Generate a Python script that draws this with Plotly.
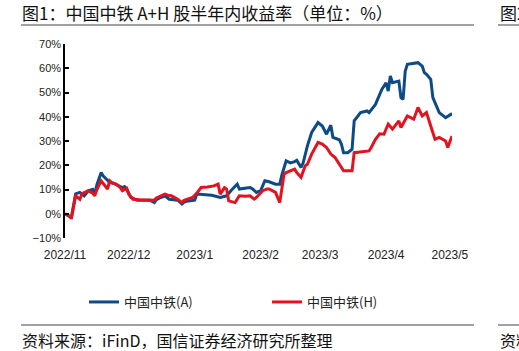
import plotly.graph_objects as go

# ---- data ----
dates_a = ["2022-11-01","2022-11-03","2022-11-04","2022-11-06","2022-11-08","2022-11-10","2022-11-12","2022-11-14",
           "2022-11-15","2022-11-16","2022-11-18","2022-11-19","2022-11-21","2022-11-22","2022-11-24","2022-11-26",
           "2022-11-28","2022-11-29","2022-11-30","2022-12-02","2022-12-05","2022-12-08","2022-12-11","2022-12-13",
           "2022-12-14","2022-12-16","2022-12-18","2022-12-20","2022-12-24","2022-12-26","2022-12-27","2022-12-29",
           "2023-01-01","2023-01-02","2023-01-06","2023-01-09","2023-01-13","2023-01-16","2023-01-18","2023-01-21",
           "2023-01-22","2023-01-25","2023-01-27","2023-01-28","2023-01-30","2023-02-01","2023-02-02","2023-02-03",
           "2023-02-05","2023-02-08","2023-02-10","2023-02-11","2023-02-13","2023-02-15","2023-02-17","2023-02-18",
           "2023-02-20","2023-02-21","2023-02-23","2023-02-25","2023-02-28","2023-03-02","2023-03-04","2023-03-06",
           "2023-03-07","2023-03-10","2023-03-11","2023-03-12","2023-03-14","2023-03-16","2023-03-17","2023-03-19",
           "2023-03-20","2023-03-23","2023-03-24","2023-03-27","2023-03-30","2023-04-01","2023-04-02","2023-04-03",
           "2023-04-04","2023-04-07","2023-04-08","2023-04-09","2023-04-10","2023-04-11","2023-04-16","2023-04-18",
           "2023-04-19","2023-04-20","2023-04-22","2023-04-23","2023-04-25","2023-04-26","2023-04-29","2023-05-02"]
values_a = [0, -0.8, -1.5, 8.2, 8.8, 7.4, 9.5, 10.1,
            8.1, 12, 17, 15.5, 13.6, 12.9, 12.5, 11.5,
            10.8, 11.2, 10.2, 6.7, 5.6, 5.6, 5.6, 4.6,
            5.8, 6.7, 7.4, 6.0, 5.6, 4.0, 4.8, 5.3,
            5.6, 8.1, 7.8, 7.6, 6.7, 7.4, 9.5, 12.2,
            10.2, 10.6, 10.8, 10.4, 8.8, 9.5, 11.5, 13.6,
            13.2, 12.2, 12.2, 16, 21.8, 21, 21.5, 22,
            19.1, 21, 28, 33.5, 37.6, 36.2, 32.8, 36.5,
            31.5, 30.5, 28.7, 25.2, 25.2, 26.6, 38.3, 40.3,
            41.7, 42.4, 41.7, 45.1, 51.3, 54, 50.6, 56.8,
            54, 54.7, 47.9, 47.2, 58.8, 61.6, 62.3, 60.9,
            58.2, 57.5, 55.4, 47.9, 43.8, 41.7, 39.6, 41.3]

dates_h = ["2022-11-01","2022-11-03","2022-11-04","2022-11-06","2022-11-08","2022-11-09","2022-11-12","2022-11-14",
           "2022-11-15","2022-11-16","2022-11-18","2022-11-21","2022-11-22","2022-11-23","2022-11-25","2022-11-27",
           "2022-11-28","2022-11-30","2022-12-01","2022-12-03","2022-12-06","2022-12-13","2022-12-14","2022-12-17",
           "2022-12-18","2022-12-20","2022-12-21","2022-12-24","2022-12-26","2022-12-27","2022-12-31","2023-01-02",
           "2023-01-04","2023-01-07","2023-01-10","2023-01-12","2023-01-13","2023-01-15","2023-01-16","2023-01-17",
           "2023-01-20","2023-01-22","2023-01-25","2023-01-27","2023-01-29","2023-01-30","2023-02-02","2023-02-04",
           "2023-02-05","2023-02-08","2023-02-10","2023-02-12","2023-02-13","2023-02-17","2023-02-18","2023-02-20",
           "2023-02-22","2023-02-23","2023-02-25","2023-02-28","2023-03-02","2023-03-04","2023-03-06","2023-03-08",
           "2023-03-09","2023-03-12","2023-03-16","2023-03-17","2023-03-24","2023-03-25","2023-03-27","2023-03-29",
           "2023-03-31","2023-04-02","2023-04-04","2023-04-07","2023-04-08","2023-04-11","2023-04-14","2023-04-16",
           "2023-04-18","2023-04-20","2023-04-22","2023-04-24","2023-04-26","2023-04-29","2023-04-30","2023-05-02"]
values_h = [0, -1, -1.9, 7.4, 6, 8.3, 9.5, 8.5,
            7.4, 10, 13.6, 10.2, 13.6, 12.8, 12.2, 10.8,
            9.5, 10.5, 8, 6, 5.8, 5.6, 6.5, 7.5,
            8.1, 7.5, 7.4, 6, 4.6, 5.5, 6.7, 8.5,
            10.8, 11, 11.5, 12.2, 8.1, 10.8, 10.2, 5.3,
            4.6, 7.4, 7.2, 7.4, 6, 6.7, 9.5, 10.2,
            10.2, 8.8, 4.6, 16.3, 17, 18.4, 17, 15,
            19.8, 20.4, 24.6, 29.4, 28.7, 27.3, 24.6, 23.2,
            21.8, 17.7, 17.7, 25.2, 25.9, 27.3, 30.7, 33,
            32.8, 37, 34.9, 38.3, 35.6, 40.3, 39, 43.8,
            40.3, 41.7, 36.2, 30.7, 31.5, 30, 27.3, 32.1]

name_a = "中国中铁(A)"
name_h = "中国中铁(H)"
tick_vals = ["2022-11-01","2022-12-01","2023-01-01","2023-02-01","2023-03-01","2023-04-01","2023-05-01"]
tick_text = ["2022/11","2022/12","2023/1","2023/2","2023/3","2023/4","2023/5"]
x_range = ["2022-11-01", "2023-05-02"]
y_range = [-10, 70]

title_text = "图1：中国中铁 A+H 股半年内收益率（单位：%）"
source_text = "资料来源：iFinD，国信证券经济研究所整理"

# ---- layout helpers (pixel -> paper) ----
W, H = 519, 351
L, R, T, B = 65, 67, 44, 113
PW, PH = W - L - R, H - T - B
def px(x): return (x - L) / PW
def py(y): return (H - B - y) / PH

CJK = "Noto Sans CJK SC"
BLUE = "#0E4A86"
RED = "#E2131F"

fig = go.Figure()
fig.add_trace(go.Scatter(x=dates_a, y=values_a, name=name_a, mode="lines",
                         line=dict(color=BLUE, width=3)))
fig.add_trace(go.Scatter(x=dates_h, y=values_h, name=name_h, mode="lines",
                         line=dict(color=RED, width=3)))

fig.update_layout(
    width=W, height=H,
    margin=dict(l=L, r=R, t=T, b=B, pad=0),
    paper_bgcolor="white", plot_bgcolor="white",
    showlegend=True,
    legend=dict(orientation="h", x=px(84), y=py(287), xanchor="left", yanchor="top",
                font=dict(family=CJK, size=13, color="#222"),
                entrywidth=138, entrywidthmode="pixels", bgcolor="rgba(0,0,0,0)"),
    xaxis=dict(type="date", range=x_range, tickvals=tick_vals, ticktext=tick_text,
               showline=False, ticks="", showgrid=False, zeroline=False,
               tickfont=dict(family="Arial", size=12, color="#222"),
               ticklabelstandoff=8),
    xaxis2=dict(type="date", range=x_range, overlaying="x", matches="x", anchor="free",
                position=(0 - y_range[0]) / (y_range[1] - y_range[0]),
                tickvals=tick_vals, showticklabels=False,
                showline=True, linecolor="black", linewidth=1.5,
                ticks="inside", ticklen=5, tickwidth=1.5, tickcolor="black",
                showgrid=False, zeroline=False),
    yaxis=dict(range=y_range, dtick=10, ticksuffix="%", showline=True, linecolor="black",
               linewidth=1.5, ticks="inside", ticklen=4, tickwidth=1.5, tickcolor="black",
               showgrid=False, zeroline=False,
               tickfont=dict(family="Arial", size=11, color="#222")),
)

# title and source texts, rules
fig.add_annotation(text=title_text, xref="paper", yref="paper", x=px(20), y=py(13),
                   xanchor="left", yanchor="middle", showarrow=False,
                   font=dict(family=CJK, size=17, color="#111"))
fig.add_annotation(text="图2", xref="paper", yref="paper", x=px(498), y=py(13),
                   xanchor="left", yanchor="middle", showarrow=False,
                   font=dict(family=CJK, size=17, color="#111"))
fig.add_annotation(text=source_text, xref="paper", yref="paper", x=px(20), y=py(340),
                   xanchor="left", yanchor="middle", showarrow=False,
                   font=dict(family=CJK, size=16, color="#111"))
fig.add_annotation(text="资料", xref="paper", yref="paper", x=px(498), y=py(340),
                   xanchor="left", yanchor="middle", showarrow=False,
                   font=dict(family=CJK, size=16, color="#111"))
for (x0, x1, y) in [(21, 474, 25), (498, 525, 25), (21, 474, 325), (498, 525, 325)]:
    fig.add_shape(type="line", xref="paper", yref="paper", x0=px(x0), x1=px(x1),
                  y0=py(y), y1=py(y), line=dict(color="#444", width=1))

fig.write_html("out.html")
